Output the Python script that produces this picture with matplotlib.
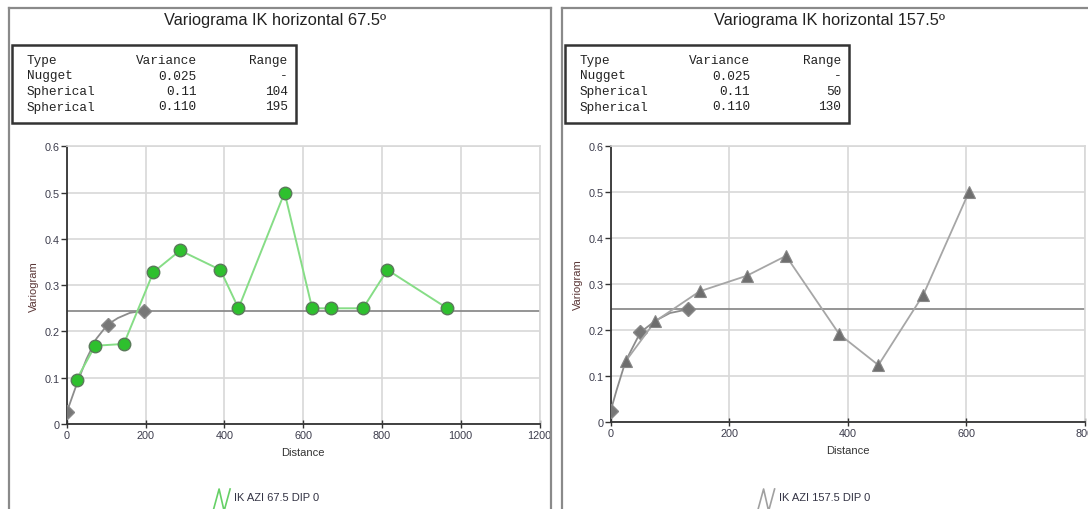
import numpy as np
import matplotlib
matplotlib.use("Agg")
import matplotlib.pyplot as plt
from matplotlib.lines import Line2D
from matplotlib.patches import Rectangle

left_lag = [25, 72, 145, 220, 288, 390, 436, 553, 623, 672, 752, 814, 966]
left_gamma = [0.096, 0.169, 0.173, 0.328, 0.375, 0.333, 0.25, 0.5, 0.25, 0.25, 0.25, 0.333, 0.25]

right_lag = [25, 75, 150, 230, 296, 386, 452, 528, 605]
right_gamma = [0.132, 0.219, 0.284, 0.318, 0.361, 0.191, 0.124, 0.277, 0.5]

# ── Fitted model curve ──
left_model_lag = [0, 10, 25, 50, 75, 104, 130, 160, 195]
left_model_gamma = [0.025, 0.049, 0.085, 0.140, 0.184, 0.215, 0.229, 0.240, 0.245]
left_knot_lag = [0, 104, 195]
left_knot_gamma = [0.025, 0.214, 0.245]

right_model_lag = [0, 10, 25, 50, 75, 100, 130]
right_model_gamma = [0.025, 0.070, 0.132, 0.195, 0.220, 0.237, 0.245]
right_knot_lag = [0, 50, 130]
right_knot_gamma = [0.025, 0.195, 0.245]

sill = 0.245

# ── Model tables ──
model_types = ["Nugget", "Spherical", "Spherical"]
left_variance = ["0.025", "0.11", "0.110"]
left_range = ["-", "104", "195"]
right_variance = ["0.025", "0.11", "0.110"]
right_range = ["-", "50", "130"]

titles = ["Variograma IK horizontal 67.5º", "Variograma IK horizontal 157.5º"]
legend_labels = ["IK AZI 67.5 DIP 0", "IK AZI 157.5 DIP 0"]

W, H = 1088, 510
plt.rcParams["font.family"] = ["Liberation Sans", "DejaVu Sans"]
fig = plt.figure(figsize=(W / 100, H / 100), dpi=100)
fig.patch.set_facecolor("white")


def fx(px):
    return px / W


def fy(py):
    return 1 - py / H


TICK_C = "#3c3c4c"
GRID_C = "#d8d8d8"


def panel(x0, ax_rect, title, lag, gamma, mlag, mgamma, klag, kgamma,
          xmax, var_col, rng_col, leg_label, style):
    # panel frame
    fig.add_artist(Line2D([fx(x0), fx(x0)], [fy(9), fy(H + 5)], color="#8a8a8a", lw=1.6))
    fig.add_artist(Line2D([fx(x0), fx(x0 + 542)], [fy(9), fy(9)], color="#8a8a8a", lw=1.6))
    if x0 + 542 < W:
        fig.add_artist(Line2D([fx(x0 + 542), fx(x0 + 542)], [fy(9), fy(H + 5)],
                              color="#8a8a8a", lw=1.6))

    fig.text(fx(x0 + 267), fy(20), title, ha="center", va="center", fontsize=11.8, color="#222222")

    # stats box
    bx = x0 + 3
    fig.add_artist(Rectangle((fx(bx), fy(124)), fx(284), 78 / H, fill=False,
                             edgecolor="#333333", lw=1.8, transform=fig.transFigure))
    rows = [("Type", "Variance", "Range")] + list(zip(model_types, var_col, rng_col))
    mono = dict(family="Liberation Mono", fontsize=9.2, color="#222222", va="center")
    for i, (t, v, r) in enumerate(rows):
        yy = fy(61 + i * 15.5)
        fig.text(fx(bx + 15), yy, t, ha="left", **mono)
        fig.text(fx(bx + 185), yy, v, ha="right", **mono)
        fig.text(fx(bx + 276), yy, r, ha="right", **mono)

    l, t_, r_, b = ax_rect
    ax = fig.add_axes([fx(l), fy(b), fx(r_ - l), (b - t_) / H])
    ax.set_xlim(0, xmax)
    ax.set_ylim(0, 0.6)
    ax.set_xticks(np.arange(0, xmax + 1, 200))
    ax.set_yticks(np.arange(0, 0.61, 0.1))
    ax.set_yticklabels(["0", "0.1", "0.2", "0.3", "0.4", "0.5", "0.6"])
    ax.grid(True, color=GRID_C, lw=1.2, zorder=0)
    ax.set_axisbelow(True)
    for s in ["top", "right"]:
        ax.spines[s].set_color(GRID_C)
        ax.spines[s].set_linewidth(1.2)
    for s in ["left", "bottom"]:
        ax.spines[s].set_color("#333333")
        ax.spines[s].set_linewidth(1.3)
    ax.tick_params(axis="y", direction="out", length=4, width=1, color="#333333",
                   labelsize=7.8, labelcolor=TICK_C, pad=1)
    ax.tick_params(axis="x", direction="inout", length=6, width=1, color="#333333",
                   labelsize=7.8, labelcolor=TICK_C, pad=1)
    ax.set_xlabel("Distance", fontsize=8, color="#333333", labelpad=5)
    ax.set_ylabel("Variogram", fontsize=8, color="#5a3636", labelpad=4)

    # sill line and model curve
    ax.axhline(sill, color="#8c8c8c", lw=1.3, zorder=2)
    ax.plot(mlag, mgamma, color="#8c8c8c", lw=1.3, zorder=3)
    ax.plot(klag, kgamma, ls="none", marker="D", ms=7, color="#777777",
            mec="#888888", zorder=4)

    if style == "green":
        ax.plot(lag, gamma, color="#86dd86", lw=1.4, zorder=5)
        ax.plot(lag, gamma, ls="none", marker="o", ms=9, mfc="#2ec02e", mec="#5a7a5a",
                mew=1.0, zorder=6)
        icon_c = "#66d066"
    else:
        ax.plot(lag, gamma, color="#a6a6a6", lw=1.3, zorder=5)
        ax.plot(lag, gamma, ls="none", marker="^", ms=8.5, mfc="#6e6e6e", mec="#888888",
                mew=0.8, zorder=6)
        icon_c = "#a0a0a0"

    # legend entry at the bottom
    cx = (l + r_) / 2 - 90
    fig.add_artist(Line2D([fx(cx), fx(cx + 6), fx(cx + 11), fx(cx + 17)],
                          [fy(512), fy(490), fy(512), fy(490)], color=icon_c, lw=1.2))
    fig.text(fx(cx + 21), fy(498), leg_label, ha="left", va="center", fontsize=8,
             color="#333344")
    return ax


panel(8.5, (66.7, 147.3, 539.5, 425.0), titles[0], left_lag, left_gamma,
      left_model_lag, left_model_gamma, left_knot_lag, left_knot_gamma,
      1200, left_variance, left_range, legend_labels[0], "green")
panel(562, (610.7, 146.7, 1084.5, 423.3), titles[1], right_lag, right_gamma,
      right_model_lag, right_model_gamma, right_knot_lag, right_knot_gamma,
      800, right_variance, right_range, legend_labels[1], "gray")

fig.savefig("out.png", dpi=100)
